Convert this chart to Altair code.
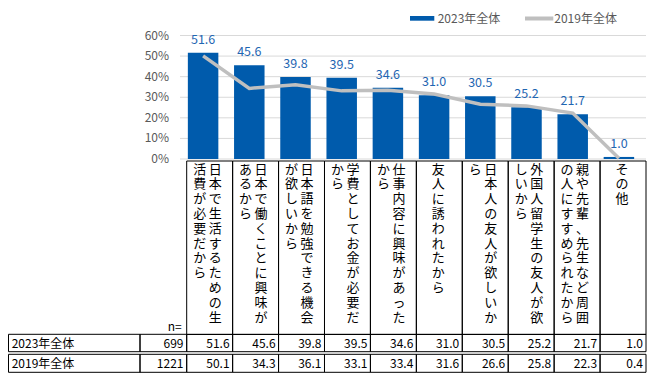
import altair as alt
import pandas as pd

categories = [
    "日本で生活するための生活費が必要だから",
    "日本で働くことに興味があるから",
    "日本語を勉強できる機会が欲しいから",
    "学費としてお金が必要だから",
    "仕事内容に興味があったから",
    "友人に誘われたから",
    "日本人の友人が欲しいから",
    "外国人留学生の友人が欲しいから",
    "親や先輩、先生など周囲の人にすすめられたから",
    "その他",
]
values_2023 = [51.6, 45.6, 39.8, 39.5, 34.6, 31.0, 30.5, 25.2, 21.7, 1.0]
values_2019 = [50.1, 34.3, 36.1, 33.1, 33.4, 31.6, 26.6, 25.8, 22.3, 0.4]
series = ["2023年全体", "2019年全体"]
n_counts = [699, 1221]
y_ticks = [0, 10, 20, 30, 40, 50, 60]

FONT = "Noto Sans CJK JP"
TFONT = "Noto Sans CJK JP"
BLUE = "#005BAC"
GRAY_LINE = "#BFBFBF"
TXT_GRAY = "#595959"
PER_COL = 11

df = pd.DataFrame({
    "cat": categories,
    "v23": values_2023,
    "v19": values_2019,
    "right": ["\n".join(c[:PER_COL]) for c in categories],
    "left": ["\n".join(c[PER_COL:]) for c in categories],
    "two": [len(c) > PER_COL for c in categories],
})
df_ticks = pd.DataFrame({"t": y_ticks})
df_series = pd.DataFrame({"series": series, "n": n_counts, "idx": [0, 1]})
df_n = pd.DataFrame({"t": ["n="]})

yscale = alt.Scale(domain=[0, 60], range=[151, 27.5], nice=False, zero=True)
bar_scale = alt.Scale(domain=categories, range=[172, 634], paddingInner=0.34, paddingOuter=0.17)
tab_scale = alt.Scale(domain=categories, range=[178.7, 638], paddingInner=0, paddingOuter=0)

x_bar = alt.X("cat:N", sort=categories, scale=bar_scale, axis=None)
x_tab = alt.X("cat:N", sort=categories, scale=tab_scale, axis=None)

grid = alt.Chart(df_ticks).mark_rule(color="#D9D9D9", strokeWidth=1).encode(
    y=alt.Y("t:Q", scale=yscale, axis=None),
    x=alt.value(172), x2=alt.value(638),
)
ylabels = alt.Chart(df_ticks).transform_calculate(lab="datum.t + '%'").mark_text(
    align="right", baseline="middle", fontSize=12, font=FONT, color=TXT_GRAY).encode(
    y=alt.Y("t:Q", scale=yscale, axis=None), x=alt.value(161), text="lab:N")
bars = alt.Chart(df).mark_bar(color=BLUE).encode(
    x=x_bar, y=alt.Y("v23:Q", scale=yscale, axis=None))
line = alt.Chart(df).mark_line(color=GRAY_LINE, strokeWidth=3.5).encode(
    x=x_bar, y=alt.Y("v19:Q", scale=yscale, axis=None))
labels = alt.Chart(df).mark_text(dy=-13, color="#1F66B2", fontSize=12.5, font=FONT, baseline="middle").encode(
    x=x_bar, y=alt.Y("v23:Q", scale=yscale, axis=None), text=alt.Text("v23:Q", format=".1f"))

top = alt.layer(grid, ylabels, bars, line, labels)

# table
cell_style = dict(fill="white", fillOpacity=0, stroke="#000000", strokeWidth=1)
head_cells = alt.Chart(df).mark_rect(**cell_style).encode(
    x=x_tab, y=alt.value(153), y2=alt.value(326.5))
vt = dict(lineBreak="\n", lineHeight=14.8, baseline="top", align="center", fontSize=13, font=FONT, color="#000000")
right_txt = alt.Chart(df).transform_filter("datum.two").mark_text(dx=5.5, **vt).encode(
    x=x_tab, y=alt.value(155.5), text="right:N")
left_txt = alt.Chart(df).transform_filter("datum.two").mark_text(dx=-10, **vt).encode(
    x=x_tab, y=alt.value(155.5), text="left:N")
single_txt = alt.Chart(df).transform_filter("!datum.two").mark_text(dx=-1, **vt).encode(
    x=x_tab, y=alt.value(155.5), text="right:N")
n_label = alt.Chart(df_n).mark_text(align="right", baseline="middle", fontSize=12, font=TFONT, color="#000000").encode(
    x=alt.value(173.7), y=alt.value(318.7), text="t:N")

table_layers = [head_cells, right_txt, left_txt, single_txt, n_label]
rows = [("v23", 326.3, 343.7), ("v19", 346.3, 364.3)]
for i, (field, y0, y1) in enumerate(rows):
    ym = (y0 + y1) / 2 + 0.5
    table_layers.append(alt.Chart(df).mark_rect(**cell_style).encode(
        x=x_tab, y=alt.value(y0), y2=alt.value(y1)))
    table_layers.append(alt.Chart(df).mark_text(align="right", baseline="middle", dx=-3, fontSize=12,
                                                font=TFONT, color="#000000").encode(
        x=alt.X("cat:N", sort=categories, scale=tab_scale, axis=None, bandPosition=1),
        y=alt.value(ym), text=alt.Text(f"{field}:Q", format=".1f")))
    sub = alt.Chart(df_series).transform_filter(f"datum.idx == {i}")
    table_layers.append(sub.mark_rect(**cell_style).encode(
        x=alt.value(0.5), x2=alt.value(132), y=alt.value(y0), y2=alt.value(y1)))
    table_layers.append(sub.mark_rect(**cell_style).encode(
        x=alt.value(132), x2=alt.value(178.7), y=alt.value(y0), y2=alt.value(y1)))
    table_layers.append(sub.mark_text(align="left", baseline="middle", fontSize=12, font=TFONT, color="#000000").encode(
        x=alt.value(3.7), y=alt.value(ym), text="series:N"))
    table_layers.append(sub.mark_text(align="right", baseline="middle", fontSize=12, font=TFONT, color="#000000").encode(
        x=alt.value(175.5), y=alt.value(ym), text="n:Q"))

table = alt.layer(*table_layers)

# legend
leg0 = alt.Chart(df_series).transform_filter("datum.idx == 0")
leg1 = alt.Chart(df_series).transform_filter("datum.idx == 1")
legend = alt.layer(
    leg0.mark_rect(color=BLUE).encode(x=alt.value(402), x2=alt.value(426.3), y=alt.value(8), y2=alt.value(12.7)),
    leg0.mark_text(align="left", baseline="middle", fontSize=12, font=FONT, color=TXT_GRAY).encode(
        x=alt.value(429.7), y=alt.value(11), text="series:N"),
    leg1.mark_rule(color=GRAY_LINE, strokeWidth=4).encode(x=alt.value(517), x2=alt.value(545.3), y=alt.value(10.5)),
    leg1.mark_text(align="left", baseline="middle", fontSize=12, font=FONT, color=TXT_GRAY).encode(
        x=alt.value(546.3), y=alt.value(11), text="series:N"),
)

chart = alt.layer(top, table, legend).resolve_scale(x="independent").properties(
    width=644, height=366, padding=0,
    autosize=alt.AutoSizeParams(type="none"),
).configure_view(stroke=None)

chart.save("out.html", embed_options={"renderer": "svg", "actions": False})
